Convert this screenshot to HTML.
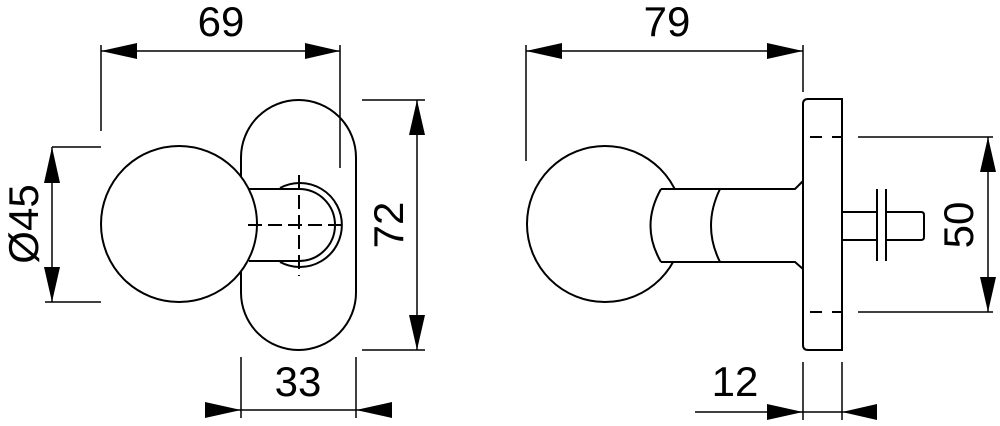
<!DOCTYPE html>
<html><head><style>body{margin:0;background:#fff}svg{display:block}</style></head><body>
<svg width="1000" height="426" viewBox="0 0 1000 426" xmlns="http://www.w3.org/2000/svg">
<g fill="none" stroke="#000" stroke-width="2">
<!-- LEFT VIEW -->
<line x1="101" y1="45" x2="101" y2="131" stroke-width="1.5"/>
<line x1="340" y1="45" x2="340" y2="168" stroke-width="1.5"/>
<line x1="101" y1="51" x2="340" y2="51" stroke-width="1.5"/>
<rect x="241" y="100" width="115" height="250" rx="57.5" ry="57.5"/>
<circle cx="179" cy="224" r="78" fill="#fff"/>
<line x1="249" y1="189" x2="299" y2="189"/>
<line x1="249" y1="261" x2="299" y2="261"/>
<path d="M299 189 A36 36 0 0 1 299 261"/>
<path d="M280 188 A42 42 0 1 1 280 262"/>
<line x1="248" y1="225" x2="348" y2="225" stroke-dasharray="14,6"/>
<line x1="299" y1="175" x2="299" y2="276" stroke-dasharray="14,6"/>
<line x1="52" y1="147" x2="101" y2="147" stroke-width="1.5"/>
<line x1="45" y1="302" x2="101" y2="302" stroke-width="1.5"/>
<line x1="52" y1="147" x2="52" y2="302" stroke-width="1.5"/>
<line x1="362" y1="100" x2="425" y2="100" stroke-width="1.5"/>
<line x1="362" y1="350" x2="425" y2="350" stroke-width="1.5"/>
<line x1="417" y1="100" x2="417" y2="350" stroke-width="1.5"/>
<line x1="241" y1="357" x2="241" y2="418" stroke-width="1.5"/>
<line x1="356" y1="357" x2="356" y2="418" stroke-width="1.5"/>
<line x1="205" y1="410" x2="392" y2="410" stroke-width="1.5"/>
<!-- RIGHT VIEW -->
<line x1="526" y1="45" x2="526" y2="161" stroke-width="1.5"/>
<line x1="803" y1="45" x2="803" y2="92" stroke-width="1.5"/>
<line x1="526" y1="51" x2="803" y2="51" stroke-width="1.5"/>
<circle cx="605" cy="224" r="78"/>
<path d="M661 189 L795 189 L803 181 L803 268 L795 262 L661 262 Q640 226 661 189 Z" fill="#fff" stroke="none"/>
<path d="M661 189 L795 189 L803 181"/>
<path d="M661 262 L795 262 L803 269"/>
<path d="M661 189 Q640 226 661 262"/>
<path d="M720 189 Q702 226 720 262"/>
<path d="M808 99 L842 99 L842 350 L808 350 Q803 350 803 345 L803 104 Q803 99 808 99 Z"/>
<line x1="810" y1="137" x2="843" y2="137" stroke-dasharray="12,10"/>
<line x1="810" y1="312" x2="843" y2="312" stroke-dasharray="12,10"/>
<path d="M843 212 L877 212 M843 240 L877 240"/>
<path d="M886 212 L921 212 Q924 212 924 215 L924 237 Q924 240 921 240 L886 240"/>
<line x1="877" y1="189" x2="877" y2="261"/>
<line x1="886" y1="189" x2="886" y2="261"/>
<line x1="858" y1="137" x2="993" y2="137" stroke-width="1.5"/>
<line x1="858" y1="312" x2="993" y2="312" stroke-width="1.5"/>
<line x1="988" y1="137" x2="988" y2="312" stroke-width="1.5"/>
<line x1="803" y1="362" x2="803" y2="420" stroke-width="1.5"/>
<line x1="842" y1="362" x2="842" y2="420" stroke-width="1.5"/>
<line x1="695" y1="412" x2="877" y2="412" stroke-width="1.5"/>
</g>
<g fill="#000">
<polygon points="101,51 137,43 137,59"/><polygon points="340,51 305,43 305,59"/>
<polygon points="52,147 44,183 60,183"/><polygon points="52,302 44,267 60,267"/>
<polygon points="417,100 409,135 425,135"/><polygon points="417,350 409,315 425,315"/>
<polygon points="241,410 205,402 205,418"/><polygon points="356,410 392,402 392,418"/>
<polygon points="526,51 562,43 562,59"/><polygon points="803,51 767,43 767,59"/>
<polygon points="988,137 980,172 996,172"/><polygon points="988,312 980,277 996,277"/>
<polygon points="803,412 767,404 767,420"/><polygon points="842,412 877,404 877,420"/>
</g>
<g font-family="Liberation Sans, sans-serif" font-size="42" text-anchor="middle" fill="#000">
<text x="221" y="36">69</text>
<text x="667" y="36">79</text>
<text x="298" y="396">33</text>
<text x="735" y="396">12</text>
<text transform="translate(38,224) rotate(-90)">Ø45</text>
<text transform="translate(403,225) rotate(-90)">72</text>
<text transform="translate(973,225) rotate(-90)">50</text>
</g>
</svg>
</body></html>
